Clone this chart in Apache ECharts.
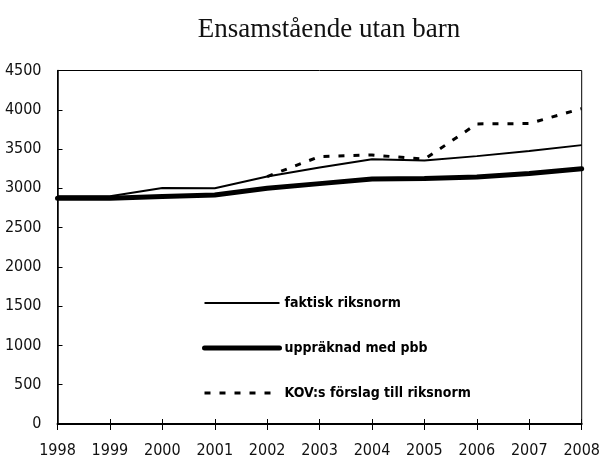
<!DOCTYPE html>
<html>
<head>
<meta charset="utf-8">
<script src="https://cdn.jsdelivr.net/npm/echarts@6/dist/echarts.min.js"></script>
<style>html,body{margin:0;padding:0;background:#fff}#c{width:603px;height:459px}</style>
</head>
<body>
<div id="c"></div>
<script>
var years = ['1998','1999','2000','2001','2002','2003','2004','2005','2006','2007','2008'];
var faktisk = [2900, 2900, 3005, 3000, 3150, 3265, 3370, 3355, 3410, 3475, 3550];
var upprakn = [2875, 2875, 2895, 2915, 3000, 3060, 3120, 3125, 3145, 3190, 3250];
var kov = [null, null, null, null, 3150, 3405, 3425, 3370, 3820, 3825, 4015];
var yTicks = [0, 500, 1000, 1500, 2000, 2500, 3000, 3500, 4000, 4500];
var titleText = 'Ensamstående utan barn';
var names = ['faktisk riksnorm', 'uppräknad med pbb', 'KOV:s förslag till riksnorm'];

var narrow = "'Liberation Sans Narrow', 'DejaVu Sans Condensed', sans-serif";
var chart = echarts.init(document.getElementById('c'));
chart.setOption({
  animation: false,
  backgroundColor: '#fff',
  title: {
    text: titleText, left: 324, top: 11, textAlign: 'center',
    textStyle: { fontFamily: "'Liberation Serif', serif", fontWeight: 'normal', fontSize: 27, color: '#111' }
  },
  grid: { left: 57.5, right: 18.6, top: 70.5, bottom: 34.7, show: true, borderColor: '#000', borderWidth: 1, backgroundColor: 'transparent' },
  legend: {
    orient: 'vertical', left: 202, top: 296, padding: 0, itemWidth: 75, itemHeight: 14, itemGap: 31,
    data: names,
    itemStyle: { opacity: 0 },
    lineStyle: { width: 'inherit' },
    textStyle: { fontFamily: narrow, fontWeight: 'bold', fontSize: 14, color: '#000' }
  },
  xAxis: [{
    type: 'category', data: years, boundaryGap: false,
    axisLine: { lineStyle: { color: '#000', width: 2 } },
    axisTick: { inside: false, length: 6, lineStyle: { color: '#000', width: 1 } },
    axisLabel: { fontFamily: narrow, fontSize: 16, color: '#111', margin: 19 },
    splitLine: { show: false }
  }, {
    type: 'category', data: years, boundaryGap: false, position: 'bottom',
    axisLine: { show: false },
    axisTick: { inside: true, length: 5, lineStyle: { color: '#000', width: 1 } },
    axisLabel: { show: false }, splitLine: { show: false }
  }],
  yAxis: {
    type: 'value', min: yTicks[0], max: yTicks[yTicks.length - 1], interval: 500,
    axisLine: { show: true, lineStyle: { color: '#000', width: 1.5 } },
    axisTick: { show: true, inside: true, length: 5, lineStyle: { color: '#000', width: 1 } },
    axisLabel: { fontFamily: narrow, fontSize: 16, color: '#111', margin: 16, formatter: function (v) { return String(v); } },
    splitLine: { show: false }
  },
  series: [
    { name: names[0], type: 'line', data: faktisk, symbol: 'none', lineStyle: { color: '#000', width: 2 }, itemStyle: { color: '#000' } },
    { name: names[1], type: 'line', data: upprakn, symbol: 'none', lineStyle: { color: '#000', width: 5, cap: 'round' }, itemStyle: { color: '#000' } },
    { name: names[2], type: 'line', data: kov, symbol: 'none', lineStyle: { color: '#000', width: 3, type: [6, 9] }, itemStyle: { color: '#000' } }
  ]
});
</script>
</body>
</html>
